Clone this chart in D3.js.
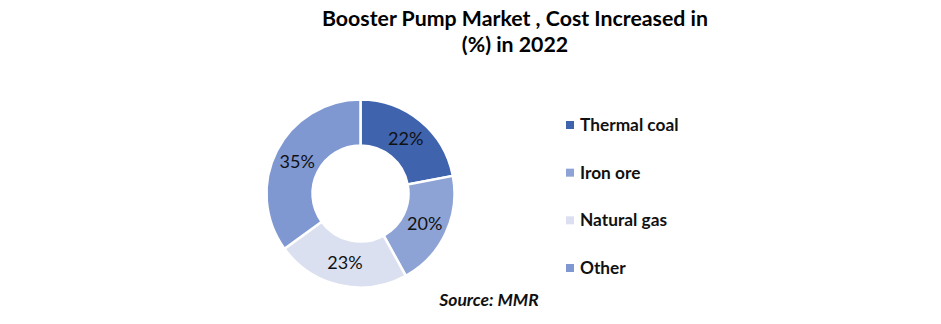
<!DOCTYPE html>
<html><head><meta charset="utf-8">
<script src="https://cdn.jsdelivr.net/npm/d3@7"></script>
<style>body{margin:0;background:#fff}svg{display:block}</style>
</head><body>
<svg id="chart" width="941" height="324"></svg>
<script>
const categories = ["Thermal coal", "Iron ore", "Natural gas", "Other"];
const values = [22, 20, 23, 35];
const colors = ["#3f63ad", "#8ea3d5", "#dbe0f0", "#7f98d2"];
const titleLines = ["Booster Pump Market , Cost Increased in", "(%) in 2022"];
const sourceText = "Source: MMR";

const svg = d3.select("#chart");
const font = "Lato, 'Open Sans', sans-serif";

svg.append("g").selectAll("text").data(titleLines).join("text")
  .attr("x", 515).attr("y", (d, i) => 26 + i * 26)
  .attr("text-anchor", "middle")
  .style("font-family", font).style("font-weight", "bold").style("font-size", "21.3px")
  .attr("fill", "#000").text(d => d);

const cx = 360.5, cy = 193.5, rOuter = 94, rInner = 48;
const pie = d3.pie().sort(null).value(d => d)(values);
const arc = d3.arc().innerRadius(rInner).outerRadius(rOuter);
const labelArc = d3.arc().innerRadius((rInner + rOuter) / 2).outerRadius((rInner + rOuter) / 2);
const color = d3.scaleOrdinal().domain(categories).range(colors);

const g = svg.append("g").attr("transform", `translate(${cx},${cy})`);
g.selectAll("path").data(pie).join("path")
  .attr("d", arc).attr("fill", (d, i) => color(categories[i]))
  .attr("stroke", "#fff").attr("stroke-width", 2.5);
g.selectAll("text").data(pie).join("text")
  .attr("transform", d => `translate(${labelArc.centroid(d)})`)
  .attr("text-anchor", "middle").attr("dy", "0.35em")
  .style("font-family", font).style("font-size", "18px").attr("fill", "#111")
  .text(d => d.data + "%");

const legend = svg.append("g");
const ly = d3.scalePoint().domain(categories).range([125, 268]);
const items = legend.selectAll("g").data(categories).join("g")
  .attr("transform", d => `translate(566,${ly(d)})`);
items.append("rect").attr("x", 0).attr("y", -4).attr("width", 8).attr("height", 8)
  .attr("fill", d => color(d));
items.append("text").attr("x", 14).attr("dy", "0.35em")
  .style("font-family", font).style("font-weight", "bold").style("font-size", "17.3px")
  .attr("fill", "#111").text(d => d);

svg.append("text").attr("x", 489).attr("y", 306).attr("text-anchor", "middle")
  .style("font-family", font).style("font-weight", "bold").style("font-style", "italic")
  .style("font-size", "17.5px").attr("fill", "#111").text(sourceText);
</script>
</body></html>
